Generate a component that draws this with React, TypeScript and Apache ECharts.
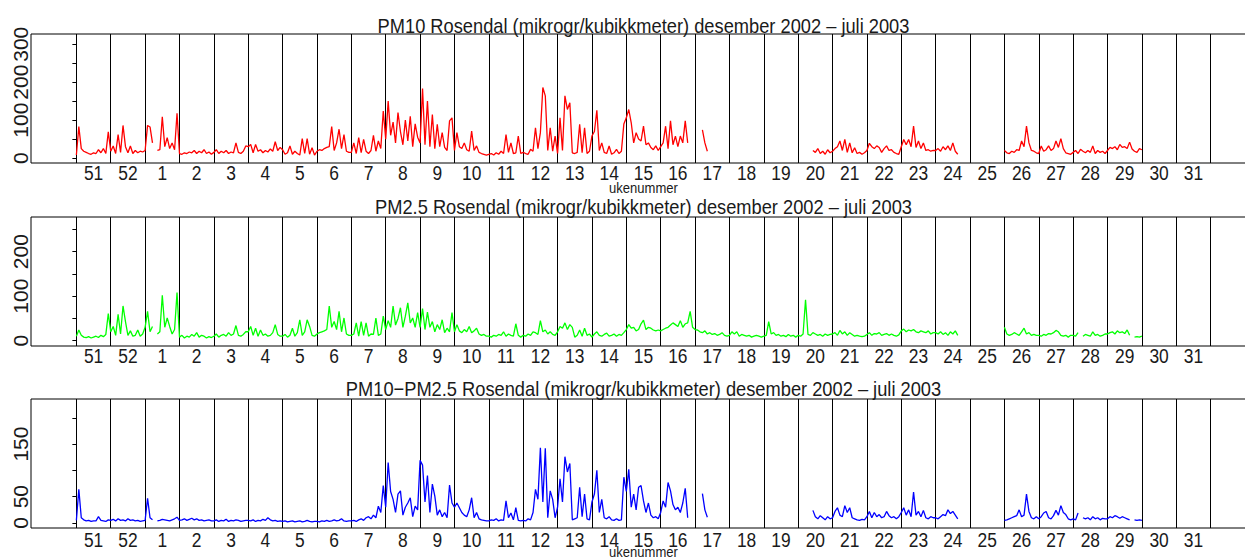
import React, { useEffect, useRef } from "react";
import * as echarts from "echarts";

type V = number | null;
const NA = null;

// Week labels (ISO week numbers), 51/2002 .. 31/2003
const weekLabels = ["51", "52", "1", "2", "3", "4", "5", "6", "7", "8", "9", "10", "11", "12", "13", "14", "15", "16", "17", "18", "19", "20", "21", "22", "23", "24", "25", "26", "27", "28", "29", "30", "31"];

// x in days from start of week 51
const xMin = -9.24;
const xMax = 240.24;

// Half-daily readings, one row per week (week 51 first)
const pm10: V[][] = [
  [8, 83, 25, 18, 15, 12, 10, 14, 12, 22, 14, 25, 12, 69], // 51
  [18, 32, 12, 62, 15, 86, 30, 14, 32, 12, 20, 14, 18, 16], // 52
  [20, 86, 82, 40, NA, 20, 22, 109, 30, 54, 25, 40, 22, 118], // 1
  [12, 10, 14, 12, 16, 14, 20, 12, 18, 14, 22, 12, 16, 10], // 2
  [15, 22, 12, 18, 14, 20, 12, 16, 14, 40, 15, 12, 18, 32], // 3
  [30, 36, 14, 36, 18, 22, 14, 20, 16, 24, 18, 43, 20, 28], // 4
  [22, 10, 14, 32, 10, 18, 12, 8, 51, 12, 51, 10, 27, 8], // 5
  [18, 22, 20, 25, 28, 30, 83, 20, 40, 76, 25, 62, 18, 15], // 6
  [15, 40, 12, 54, 14, 49, 18, 12, 20, 60, 18, 45, 25, 124], // 7
  [50, 150, 60, 95, 40, 120, 70, 35, 100, 45, 110, 30, 90, 55], // 8
  [40, 183, 35, 150, 30, 115, 25, 89, 30, 67, 28, 20, 98, 106], // 9
  [20, 67, 30, 25, 40, 22, 18, 71, 20, 32, 15, 12, 10, 8], // 10
  [10, 12, 8, 14, 10, 18, 12, 62, 15, 40, 12, 14, 58, 12], // 11
  [15, 12, 10, 23, 18, 80, 25, 67, 186, 164, 20, 80, 18, 58], // 12
  [12, 106, 20, 164, 128, 146, 14, 12, 15, 89, 14, 80, 12, 18], // 13
  [58, 70, 126, 20, 40, 15, 12, 32, 10, 14, 23, 12, 18, 90], // 14
  [106, 128, 93, 40, 67, 50, 45, 84, 35, 40, 28, 22, 32, 20], // 15
  [30, 40, 84, 25, 98, 35, 58, 30, 58, 40, 98, 40, NA], // 16
  [NA, NA, NA, 74, 40, 18, NA], // 17
  [NA], // 18
  [NA], // 19
  [NA, NA, NA, NA, NA, NA, 20, 15, 25, 12, 18, 10, 22, 14], // 20
  [18, 25, 30, 45, 20, 49, 15, 40, 14, 27, 12, 15, 10, 14], // 21
  [20, 39, 30, 25, 32, 28, 15, 25, 32, 20, 22, 15, 12, 10], // 22
  [30, 49, 35, 49, 30, 84, 28, 45, 25, 40, 20, 22, 18, 20], // 23
  [20, 25, 18, 30, 22, 32, 20, 40, 18, 10, NA], // 24
  [NA], // 25
  [20, 14, 12, 18, 15, 22, 20, 45, 30, 84, 40, 20, 18, 14], // 26
  [12, 32, 18, 22, 32, 20, 25, 45, 28, 51, 25, 14, 12, 10], // 27
  [15, 20, 12, 23, 18, 14, 20, 15, 32, 12, 20, 15, 18, 12], // 28
  [20, 28, 25, 30, 22, 36, 28, 30, 25, 42, 24, 18, 15, 25], // 29
  [22], // 30
];

const pm25: V[][] = [
  [10, 24, 12, 8, 7, 9, 6, 8, 10, 7, 12, 9, 14, 61], // 51
  [20, 32, 12, 59, 15, 78, 43, 12, 22, 10, 12, 24, 10, 15], // 52
  [30, 66, 20, 32, NA, 15, 20, 102, 30, 51, 32, 15, 25, 108], // 1
  [8, 12, 6, 10, 8, 14, 10, 18, 8, 12, 10, 6, 9, 7], // 2
  [10, 15, 8, 12, 14, 10, 18, 12, 15, 34, 12, 10, 14, 20], // 3
  [20, 32, 12, 28, 10, 24, 12, 15, 10, 12, 18, 36, 14, 10], // 4
  [10, 14, 8, 12, 28, 10, 18, 47, 12, 20, 47, 32, 12, 10], // 5
  [15, 18, 20, 22, 25, 78, 30, 43, 25, 66, 20, 51, 15, 12], // 6
  [12, 15, 40, 10, 43, 12, 40, 10, 15, 14, 51, 12, 15, 55], // 7
  [25, 45, 30, 78, 35, 50, 74, 30, 55, 85, 40, 51, 30, 63], // 8
  [30, 72, 25, 64, 30, 43, 20, 36, 25, 47, 18, 28, 20, 63], // 9
  [20, 36, 22, 18, 25, 20, 32, 18, 22, 28, 15, 12, 14, 10], // 10
  [10, 8, 12, 10, 14, 12, 20, 10, 15, 12, 10, 38, 12, 8], // 11
  [12, 10, 15, 12, 20, 18, 14, 45, 20, 24, 15, 20, 14, 12], // 12
  [20, 32, 28, 40, 25, 36, 30, 8, 12, 24, 10, 28, 12, 15], // 13
  [8, 15, 20, 12, 10, 14, 17, 10, 12, 15, 10, 14, 12, 18], // 14
  [25, 36, 28, 30, 22, 25, 38, 46, 25, 30, 28, 24, 22, 24], // 15
  [22, 25, 28, 30, 35, 40, 36, 32, 45, 30, 38, 40, 66, 30], // 16
  [25, 24, 20, 18, 22, 15, 18, 14, 16, 12, 14, 18, 12, 10], // 17
  [12, 20, 15, 20, 10, 14, 12, 10, 12, 8, 10, 12, 10, 8], // 18
  [10, 12, 43, 15, 18, 12, 14, 10, 12, 9, 14, 10, 12, 8], // 19
  [12, 10, 15, 92, 14, 12, 18, 15, 12, 14, 10, 15, 12, 14], // 20
  [15, 18, 12, 23, 15, 20, 12, 18, 14, 10, 12, 10, 9, 10], // 21
  [14, 18, 12, 16, 15, 18, 12, 14, 16, 12, 15, 12, 10, 13], // 22
  [22, 26, 20, 24, 22, 25, 20, 18, 22, 20, 18, 22, 15, 18], // 23
  [18, 15, 20, 14, 18, 12, 20, 15, 22, 12, NA], // 24
  [NA], // 25
  [30, 15, 12, 14, 18, 15, 12, 20, 28, 15, 18, 12, 14, 12], // 26
  [12, 10, 14, 12, 16, 15, 18, 23, 20, 12, 10, 12, 8, 12], // 27
  [12, 10, 18, NA, 10, 14, 12, 10, 20, 12, 14, 10, 12, 15], // 28
  [15, 18, 20, 15, 22, 18, 20, 16, 24, 12, NA, 8, 9, 8], // 29
  [10], // 30
];

const pmCoarse: V[][] = [
  [5, 64, 10, 6, 4, 5, 3, 4, 4, 12, 5, 4, 3, 6], // 51
  [5, 7, 4, 8, 5, 6, 4, 8, 5, 6, 4, 5, 3, 4], // 52
  [5, 47, 10, 6, NA, 4, 5, 7, 6, 5, 4, 6, 8, 11], // 1
  [5, 6, 8, 5, 7, 9, 6, 8, 5, 6, 4, 5, 6, 4], // 2
  [4, 6, 3, 5, 4, 7, 3, 5, 4, 6, 5, 3, 4, 5], // 3
  [5, 4, 6, 3, 5, 4, 7, 5, 10, 6, 4, 5, 3, 4], // 4
  [3, 4, 2, 3, 4, 2, 3, 4, 2, 3, 5, 3, 2, 3], // 5
  [3, 2, 4, 3, 5, 3, 4, 6, 4, 5, 8, 4, 3, 4], // 6
  [4, 5, 3, 6, 8, 5, 10, 12, 8, 15, 10, 32, 20, 71], // 7
  [30, 115, 60, 45, 20, 55, 61, 15, 30, 38, 48, 12, 32, 25], // 8
  [119, 110, 40, 90, 20, 74, 51, 15, 25, 12, 20, 10, 72, 38], // 9
  [30, 38, 29, 20, 15, 12, 25, 48, 10, 20, 8, 6, 5, 4], // 10
  [4, 6, 5, 8, 4, 6, 5, 42, 10, 19, 6, 29, 5, 4], // 11
  [5, 4, 8, 6, 20, 64, 45, 143, 40, 142, 10, 61, 45, 10], // 12
  [30, 84, 40, 126, 97, 113, 6, 8, 10, 68, 12, 55, 8, 6], // 13
  [40, 55, 100, 20, 45, 10, 8, 12, 6, 5, 8, 5, 6, 87], // 14
  [60, 102, 30, 55, 25, 68, 71, 42, 20, 38, 15, 10, 12, 8], // 15
  [20, 42, 30, 77, 61, 35, 25, 30, 20, 38, 66, 10, NA], // 16
  [NA, NA, NA, 56, 25, 11, NA], // 17
  [NA], // 18
  [NA], // 19
  [NA, NA, NA, NA, NA, NA, 24, 12, 8, 14, 10, 6, 12, 8], // 20
  [10, 22, 29, 15, 12, 33, 20, 29, 10, 8, 6, 5, 7, 6], // 21
  [12, 22, 10, 20, 12, 16, 10, 12, 22, 14, 10, 12, 8, 12], // 22
  [20, 29, 15, 25, 12, 59, 15, 22, 12, 24, 10, 8, 12, 10], // 23
  [10, 8, 12, 16, 14, 25, 18, 22, 15, 8, NA], // 24
  [NA], // 25
  [5, 6, 8, 10, 12, 14, 25, 12, 15, 55, 22, 10, 8, 12], // 26
  [8, 12, 19, 22, 10, 8, 14, 24, 15, 33, 20, 16, 8, 6], // 27
  [8, 6, 19, NA, 10, 8, 10, 6, 12, 8, 10, 6, 9, 8], // 28
  [8, 12, 10, 14, 12, 9, 12, 10, 8, 6, NA, 6, 5, 6], // 29
  [5], // 30
];

const titles = [
  "PM10 Rosendal (mikrogr/kubikkmeter) desember 2002 \u2013 juli 2003",
  "PM2.5 Rosendal (mikrogr/kubikkmeter) desember 2002 \u2013 juli 2003",
  "PM10\u2212PM2.5 Rosendal (mikrogr/kubikkmeter) desember 2002 \u2013 juli 2003",
];
const yRanges = [
  [-13, 327],
  [-12, 278],
  [-9.5, 235.7],
];
const yTickValues = [
  [0, 50, 100, 150, 200, 250, 300],
  [0, 50, 100, 150, 200, 250],
  [0, 50, 100, 150, 200],
];
const yLabelValues = [
  [0, 100, 200, 300],
  [0, 100, 200],
  [0, 50, 150],
];
const seriesNames = ["PM10", "PM2.5", "PM10-PM2.5"];
const seriesData = [pm10, pm25, pmCoarse];
const seriesColors = ["#ff0000", "#00ff00", "#0000ff"];
const showXName = [true, false, true];

// layout (plot box runs past the right edge of the picture, as in the original)
const gridLeft = 31;
const gridWidth = 1225;
const gridTops = [34, 217, 399];
const gridHeight = 129;
const titleY = [26, 207, 388.5];
const weekLabelY = [173, 356.5, 540];
const xNameY = [187.5, 0, 552];
const SQUEEZE = 0.87;
const FONT = "'Liberation Sans', Arial, sans-serif";
const TEXT = "#1a1a1a";

function toPoints(rows: V[][]): [number, number | string][] {
  const pts: [number, number | string][] = [];
  rows.forEach((row, w) => {
    row.forEach((v, j) => {
      pts.push([w * 7 + j * 0.5, v === null ? "-" : v]);
    });
  });
  return pts;
}

function squeezedText(text: string, x: number, y: number, size: number) {
  return {
    type: "text",
    x,
    y,
    scaleX: SQUEEZE,
    silent: true,
    style: {
      text,
      fill: TEXT,
      font: `${size}px ${FONT}`,
      textAlign: "center",
      textVerticalAlign: "middle",
    },
  };
}

export default function App() {
  const ref = useRef<HTMLDivElement>(null);
  useEffect(() => {
    if (!ref.current) return;
    const chart = echarts.init(ref.current, null, { renderer: "svg" });
    const weekCenters = weekLabels.map((_, i) => i * 7 + 3.5);
    const weekBounds = weekLabels.map((_, i) => i * 7).concat([weekLabels.length * 7]);

    const grid: any[] = [];
    const xAxis: any[] = [];
    const yAxis: any[] = [];
    const series: any[] = [];

    for (let k = 0; k < 3; k++) {
      grid.push({
        left: gridLeft,
        width: gridWidth,
        top: gridTops[k],
        height: gridHeight,
        show: true,
        containLabel: false,
        outerBoundsMode: "none",
        borderColor: "#000",
        borderWidth: 1,
        backgroundColor: "transparent",
      });
      xAxis.push({
        type: "value",
        gridIndex: k,
        min: xMin,
        max: xMax,
        axisLine: { show: false },
        axisTick: { show: false },
        splitLine: { show: false },
        axisLabel: { show: false },
      });
      yAxis.push({
        type: "value",
        gridIndex: k,
        min: yRanges[k][0],
        max: yRanges[k][1],
        axisLine: { show: false },
        splitLine: { show: false },
        axisTick: {
          show: true,
          inside: false,
          length: 4,
          customValues: yTickValues[k],
          lineStyle: { color: "#000", width: 1 },
        },
        axisLabel: {
          customValues: yLabelValues[k],
          rotate: 90,
          fontFamily: FONT,
          fontSize: 21,
          color: TEXT,
          margin: 0,
        },
      });
      series.push({
        name: seriesNames[k],
        type: "line",
        xAxisIndex: k,
        yAxisIndex: k,
        data: toPoints(seriesData[k]),
        showSymbol: false,
        symbol: "none",
        connectNulls: false,
        lineStyle: { color: seriesColors[k], width: 1.3 },
        itemStyle: { color: seriesColors[k] },
        z: 3,
        markLine: {
          silent: true,
          symbol: ["none", "none"],
          label: { show: false },
          lineStyle: { color: "#000", type: "solid", width: 1 },
          z: 2,
          data: weekBounds.map((d) => ({ xAxis: d })),
        },
      });
    }

    chart.setOption({
      animation: false,
      backgroundColor: "#fff",
      grid,
      xAxis,
      yAxis,
      series,
    });

    // Texts (squeezed like the original device), placed through the axes' scales
    const graphic: any[] = [];
    for (let k = 0; k < 3; k++) {
      const cx = (chart.convertToPixel({ gridIndex: k }, [xMin, 0])[0] +
        chart.convertToPixel({ gridIndex: k }, [xMax, 0])[0]) / 2;
      graphic.push(squeezedText(titles[k], cx, titleY[k], 21));
      weekCenters.forEach((c, i) => {
        const px = chart.convertToPixel({ xAxisIndex: k }, c) as number;
        graphic.push(squeezedText(weekLabels[i], px, weekLabelY[k], 20));
      });
      if (showXName[k]) {
        graphic.push(squeezedText("ukenummer", cx, xNameY[k], 15));
      }
    }
    chart.setOption({ graphic });
    return () => chart.dispose();
  }, []);
  return (
    <div
      ref={ref}
      style={{ position: "absolute", left: 0, top: 0, width: 1245, height: 560 }}
    />
  );
}
